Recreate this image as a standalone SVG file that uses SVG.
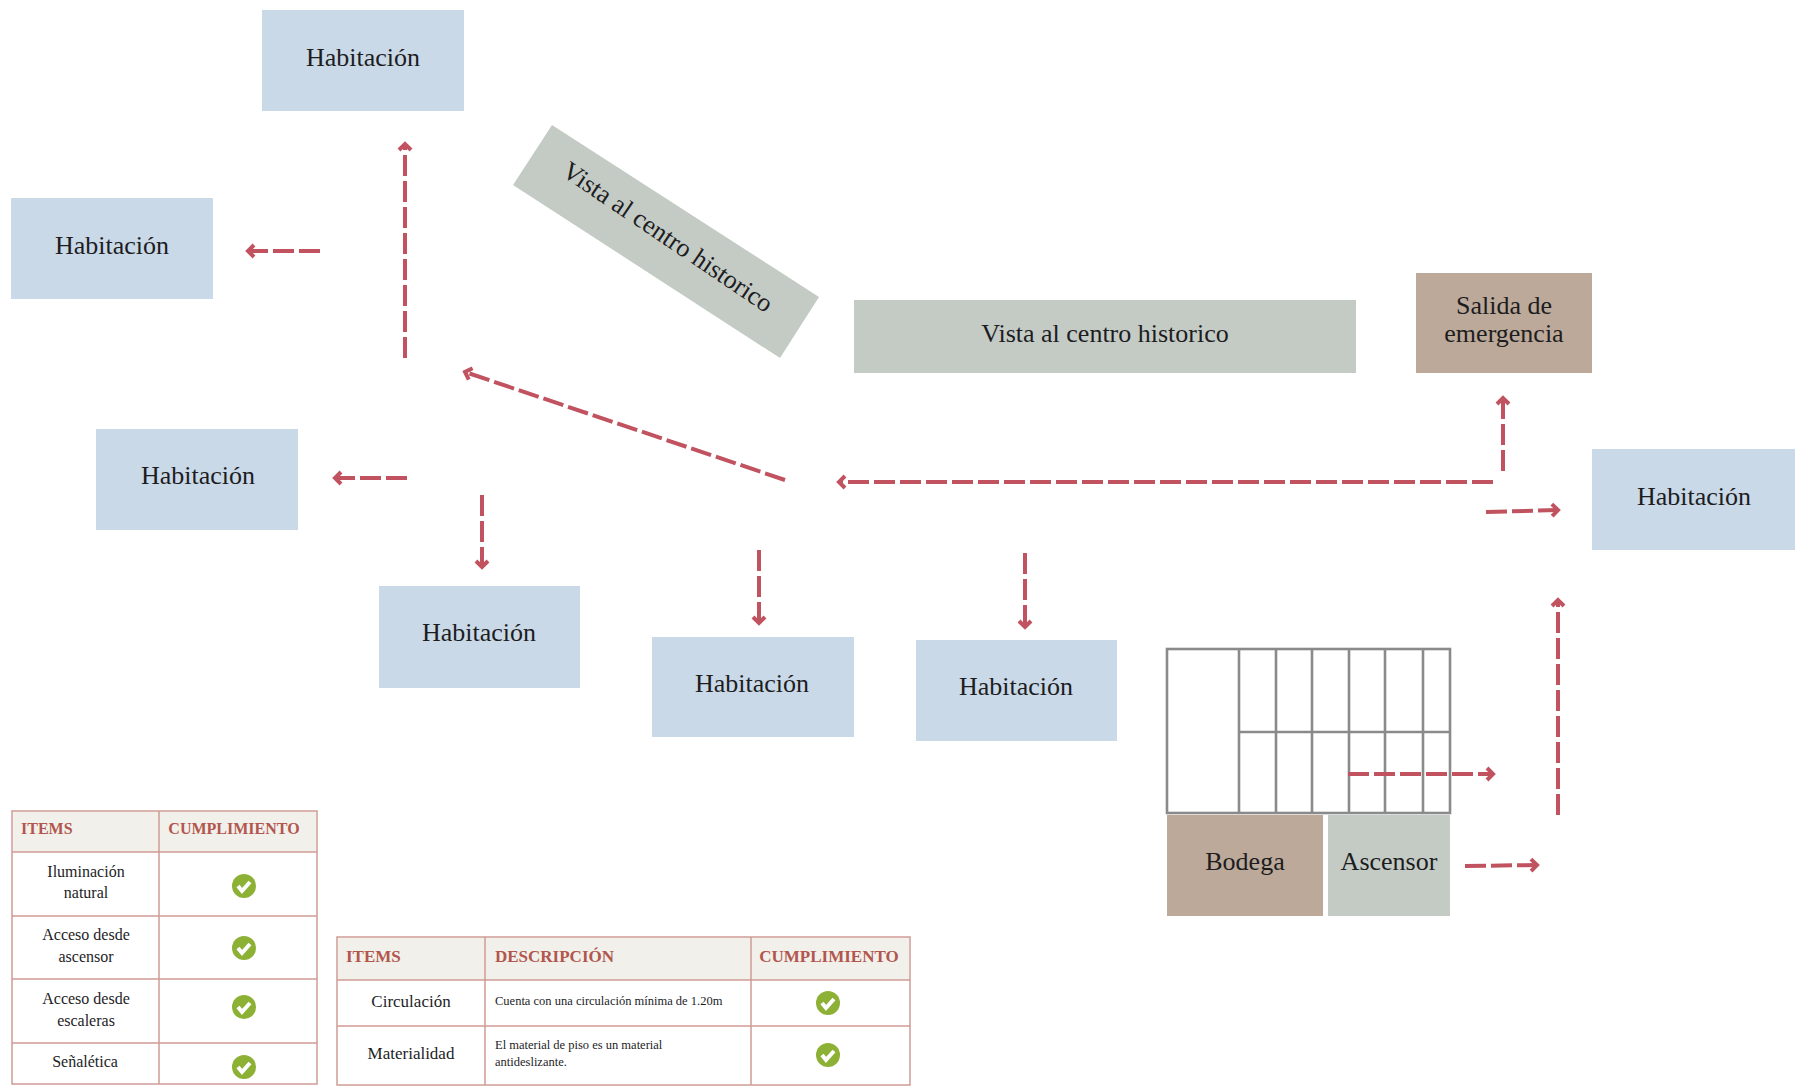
<svg xmlns="http://www.w3.org/2000/svg" xmlns:xlink="http://www.w3.org/1999/xlink" width="1797" height="1086" viewBox="0 0 1797 1086">
<style>
text{font-family:"Liberation Serif","Times New Roman",serif;fill:#1d1d1f;text-anchor:middle}
.lbl{font-size:26px}
.hab{fill:#c9d9e7}
.sage{fill:#c4cbc5}
.tan{fill:#bca999}
.conn{fill:none;stroke:#c0535f;stroke-width:4;stroke-dasharray:21 5;marker-end:url(#arr)}
.grid{fill:#fff;stroke:#8a8a8a;stroke-width:2.6}
.gl{stroke:#8a8a8a;stroke-width:2.6}
.tb{fill:#fff;stroke:#cf9c97;stroke-width:1.5}
.th{fill:#f1f0ea}
.tl{stroke:#cf9c97;stroke-width:1.5}
.h1{font-size:16px;font-weight:bold;fill:#b2564e}
.h2{font-size:17px;font-weight:bold;fill:#b2564e}
.b1{font-size:16px}
.b2{font-size:17px}
.d{font-size:12.5px;text-anchor:start}
.start{text-anchor:start}
</style>
<defs>
<marker id="arr" markerUnits="userSpaceOnUse" markerWidth="20" markerHeight="20" refX="13" refY="10" orient="auto">
<path d="M7 4 L13 10 L7 16" fill="none" stroke="#c0535f" stroke-width="4"/>
</marker>
<g id="ok">
<circle r="12" fill="#8cb135"/>
<path d="M-6 0 L-2 5 L6 -4" fill="none" stroke="#fff" stroke-width="4"/>
</g>
</defs>
<rect width="1797" height="1086" fill="#fff"/>

<g id="hab-top"><rect class="hab" x="262" y="10" width="202" height="101"/><text class="lbl" x="363" y="66">Habitación</text></g>
<g id="hab-left"><rect class="hab" x="11" y="198" width="202" height="101"/><text class="lbl" x="112" y="254">Habitación</text></g>
<g id="hab-3"><rect class="hab" x="96" y="429" width="202" height="101"/><text class="lbl" x="198" y="484">Habitación</text></g>
<g id="hab-4"><rect class="hab" x="379" y="586" width="201" height="102"/><text class="lbl" x="479" y="641">Habitación</text></g>
<g id="hab-5"><rect class="hab" x="652" y="637" width="202" height="100"/><text class="lbl" x="752" y="692">Habitación</text></g>
<g id="hab-6"><rect class="hab" x="916" y="640" width="201" height="101"/><text class="lbl" x="1016" y="695">Habitación</text></g>
<g id="hab-right"><rect class="hab" x="1592" y="449" width="203" height="101"/><text class="lbl" x="1694" y="505">Habitación</text></g>

<g id="vista-rot"><polygon class="sage" points="552,125 819,297 780,358 513,185"/><text class="lbl" transform="translate(663,244) rotate(34)" y="0">Vista al centro historico</text></g>
<g id="vista"><rect class="sage" x="854" y="300" width="502" height="73"/><text class="lbl" x="1105" y="342">Vista al centro historico</text></g>
<g id="salida"><rect class="tan" x="1416" y="273" width="176" height="100"/><text class="lbl" x="1504" y="314">Salida de</text><text class="lbl" x="1504" y="342">emergencia</text></g>

<g id="escalera">
<rect class="grid" x="1167" y="649" width="283" height="164"/>
<path class="gl" d="M1239 649V813M1276 649V813M1312 649V813M1349 649V813M1385 649V813M1423 649V813M1239 732H1450"/>
</g>
<g id="bodega"><rect class="tan" x="1167" y="815" width="156" height="101"/><text class="lbl" x="1245" y="870">Bodega</text></g>
<g id="ascensor"><rect class="sage" x="1328" y="815" width="122" height="101"/><text class="lbl" x="1389" y="870">Ascensor</text></g>

<g id="connectors">
<path class="conn" d="M405 358V144"/>
<path class="conn" d="M320 251H248"/>
<path class="conn" d="M407 478H335"/>
<path class="conn" d="M482 495V567"/>
<path class="conn" d="M785 480L465 372"/>
<path class="conn" d="M1493 482H839"/>
<path class="conn" d="M1503 471V398"/>
<path class="conn" d="M1486 512L1558 510"/>
<path class="conn" d="M759 550V623"/>
<path class="conn" d="M1025 553V627"/>
<path class="conn" d="M1558 815V600"/>
<path class="conn" d="M1348 774H1493"/>
<path class="conn" d="M1465 866L1537 865"/>
</g>

<g id="tabla-1">
<rect class="tb" x="12" y="811" width="305" height="273"/>
<rect class="th" x="13" y="812" width="303" height="40"/>
<path class="tl" d="M12 852H317M12 916H317M12 979H317M12 1043H317M159 811V1084"/>
<text class="h1 start" x="21" y="834">ITEMS</text>
<text class="h1" x="234" y="834">CUMPLIMIENTO</text>
<text class="b1" x="86" y="877">Iluminación</text><text class="b1" x="86" y="898">natural</text>
<text class="b1" x="86" y="940">Acceso desde</text><text class="b1" x="86" y="962">ascensor</text>
<text class="b1" x="86" y="1004">Acceso desde</text><text class="b1" x="86" y="1026">escaleras</text>
<text class="b1" x="85" y="1067">Señalética</text>
<use xlink:href="#ok" href="#ok" x="244" y="886"/>
<use xlink:href="#ok" href="#ok" x="244" y="948"/>
<use xlink:href="#ok" href="#ok" x="244" y="1007"/>
<use xlink:href="#ok" href="#ok" x="244" y="1067"/>
</g>

<g id="tabla-2">
<rect class="tb" x="337" y="937" width="573" height="148"/>
<rect class="th" x="338" y="938" width="571" height="42"/>
<path class="tl" d="M337 980H910M337 1026H910M485 937V1085M751 937V1085"/>
<text class="h2 start" x="346" y="962">ITEMS</text>
<text class="h2 start" x="495" y="962">DESCRIPCIÓN</text>
<text class="h2" x="829" y="962">CUMPLIMIENTO</text>
<text class="b2" x="411" y="1007">Circulación</text>
<text class="b2" x="411" y="1059">Materialidad</text>
<text class="d" x="495" y="1005">Cuenta con una circulación mínima de 1.20m</text>
<text class="d" x="495" y="1049">El material de piso es un material</text>
<text class="d" x="495" y="1066">antideslizante.</text>
<use xlink:href="#ok" href="#ok" x="828" y="1003"/>
<use xlink:href="#ok" href="#ok" x="828" y="1055"/>
</g>
</svg>
